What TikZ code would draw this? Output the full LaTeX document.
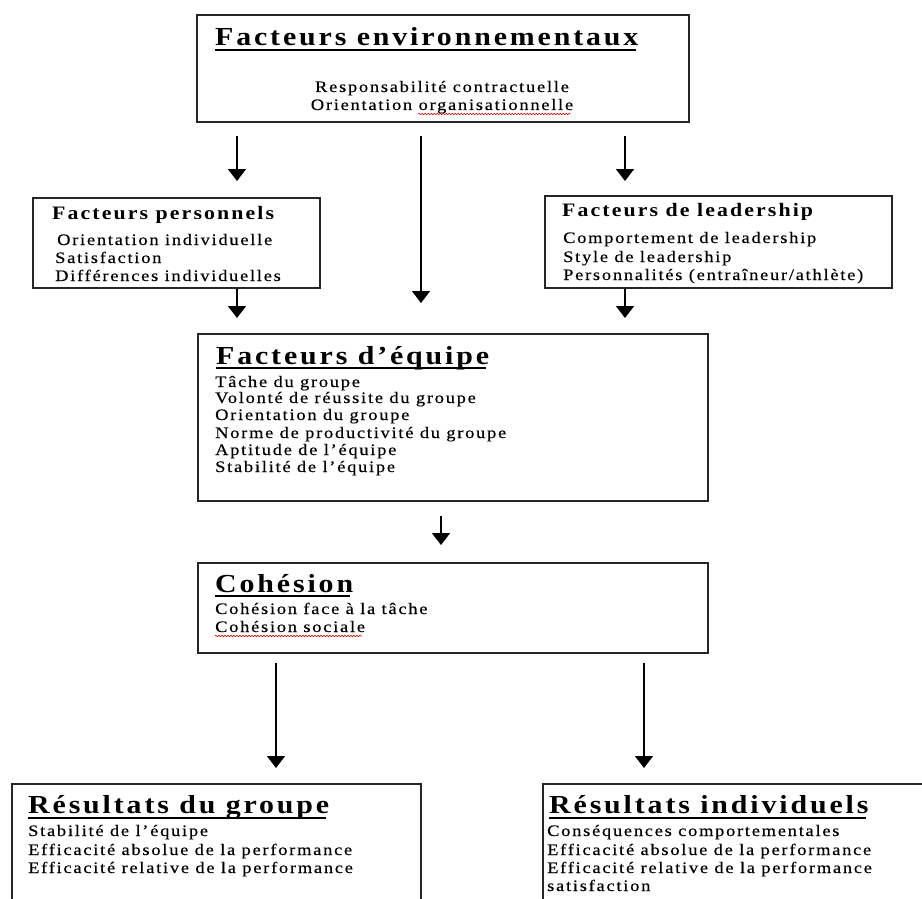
\documentclass[tikz,border=0pt]{standalone}
\usepackage{fontspec}
\setmainfont{Liberation Serif}
\newfontfamily\spacedserif[LetterSpace=11,FakeStretch=1.15,Ligatures=NoCommon]{Liberation Serif}
\newfontfamily\spacedbody[LetterSpace=11,FakeStretch=1.15,FakeBold=0.3,Ligatures=NoCommon]{Liberation Serif}
\usetikzlibrary{arrows.meta,calc,decorations.pathmorphing}

\tikzset{
  box/.style={draw=black!85, line width=1.8pt, rectangle, inner sep=0pt, anchor=north west},
  bighead/.style={inner sep=0pt, anchor=base west, font=\spacedserif\bfseries\fontsize{26}{30}\selectfont},
  smallhead/.style={inner sep=0pt, anchor=base west, font=\spacedserif\bfseries\fontsize{19}{22}\selectfont},
  body/.style={inner sep=0pt, anchor=base west, font=\spacedbody\fontsize{16}{18}\selectfont},
  arr/.style={line width=1.6pt, -{Triangle[width=18pt,length=12pt]}},
  uline/.style={line width=2pt},
  spell/.style={red!85!black, line width=0.6pt, decorate,
    decoration={snake, amplitude=0.8pt, segment length=3pt}}
}

\begin{document}
\begin{tikzpicture}[x=1pt,y=-1pt]
  \useasboundingbox (0,0) rectangle (922,899);
  \clip (0,0) rectangle (922,899);
  \fill[white] (0,0) rectangle (922,899);

  % boxes
  \node[box, minimum width=492pt, minimum height=107pt] (env)  at (196,14)  {};
  \node[box, minimum width=287pt, minimum height=90pt]  (pers) at (32,197)  {};
  \node[box, minimum width=347pt, minimum height=92pt]  (lead) at (544,195) {};
  \node[box, minimum width=510pt, minimum height=167pt] (team) at (197,333) {};
  \node[box, minimum width=510pt, minimum height=90pt]  (coh)  at (197,562) {};
  \node[box, minimum width=409pt, minimum height=150pt] (resG) at (11,783)  {};
  \node[box, minimum width=420pt, minimum height=150pt] (resI) at (542,783) {};

  % environment factors
  \node[bighead] (envT) at (215,46) {Facteurs environnementaux};
  \draw[uline] ($(envT.base west)+(0,4)$) -- ($(envT.base east)+(-3,4)$);
  \node[body, anchor=base] (env1) at (442,92)  {Responsabilité contractuelle};
  \node[body, anchor=base] (env2) at (442,110) {Orientation organisationnelle};
  \draw[spell] ($(env2.base east)+(-155,4)$) -- ($(env2.base east)+(-3,4)$);

  % personal factors
  \node[smallhead] (persT) at (52,219) {Facteurs personnels};
  \node[body] (pers1) at (57,245) {Orientation individuelle};
  \node[body] (pers2) at (55,263) {Satisfaction};
  \node[body] (pers3) at (55,281) {Différences individuelles};

  % leadership factors
  \node[smallhead] (leadT) at (562,216) {Facteurs de leadership};
  \node[body] (lead1) at (563,243) {Comportement de leadership};
  \node[body] (lead2) at (563,262) {Style de leadership};
  \node[body] (lead3) at (563,280) {Personnalités (entraîneur/athlète)};

  % team factors
  \node[bighead] (teamT) at (216,364) {Facteurs d’équipe};
  \draw[uline] ($(teamT.base west)+(0,4)$) -- ($(teamT.base east)+(-3,4)$);
  \node[body] (team1) at (215,387) {Tâche du groupe};
  \node[body] (team2) at (215,403) {Volonté de réussite du groupe};
  \node[body] (team3) at (215,420) {Orientation du groupe};
  \node[body] (team4) at (215,438) {Norme de productivité du groupe};
  \node[body] (team5) at (215,455) {Aptitude de l’équipe};
  \node[body] (team6) at (215,472) {Stabilité de l’équipe};

  % cohesion
  \node[bighead] (cohT) at (215,592) {Cohésion};
  \draw[uline] ($(cohT.base west)+(0,4)$) -- ($(cohT.base east)+(-3,4)$);
  \node[body] (coh1) at (215,614) {Cohésion face à la tâche};
  \node[body] (coh2) at (215,632) {Cohésion sociale};
  \draw[spell] ($(coh2.base west)+(0,4)$) -- ($(coh2.base east)+(-3,4)$);

  % group outcomes
  \node[bighead] (resGT) at (28,813) {Résultats du groupe};
  \draw[uline] ($(resGT.base west)+(0,5)$) -- ($(resGT.base east)+(-3,5)$);
  \node[body] (resG1) at (28,836) {Stabilité de l’équipe};
  \node[body] (resG2) at (28,855) {Efficacité absolue de la performance};
  \node[body] (resG3) at (28,873) {Efficacité relative de la performance};

  % individual outcomes
  \node[bighead] (resIT) at (549,813) {Résultats individuels};
  \draw[uline] ($(resIT.base west)+(0,5)$) -- ($(resIT.base east)+(-3,5)$);
  \node[body] (resI1) at (547,836) {Conséquences comportementales};
  \node[body] (resI2) at (547,855) {Efficacité absolue de la performance};
  \node[body] (resI3) at (547,873) {Efficacité relative de la performance};
  \node[body] (resI4) at (547,891) {satisfaction};

  % arrow columns
  \coordinate (cL)  at (237,0);
  \coordinate (cM)  at (421,0);
  \coordinate (cR)  at (625,0);
  \coordinate (cT)  at (441,0);
  \coordinate (cBL) at (276,0);
  \coordinate (cBR) at (644,0);

  % connectors
  \draw[arr, shorten <=13pt, shorten >=16pt] (env.south -| cL) -- (pers.north -| cL);
  \draw[arr, shorten <=13pt, shorten >=14pt] (env.south -| cR) -- (lead.north -| cR);
  \draw[arr, shorten <=13pt, shorten >=30pt] (env.south -| cM) -- (team.north -| cM);
  \draw[arr, shorten >=15pt] (pers.south -| cL) -- (team.north -| cL);
  \draw[arr, shorten >=15pt] (lead.south -| cR) -- (team.north -| cR);
  \draw[arr, shorten <=14pt, shorten >=17pt] (team.south -| cT) -- (coh.north -| cT);
  \draw[arr, shorten <=9pt, shorten >=15pt] (coh.south -| cBL) -- (resG.north -| cBL);
  \draw[arr, shorten <=9pt, shorten >=15pt] (coh.south -| cBR) -- (resI.north -| cBR);
\end{tikzpicture}
\end{document}
